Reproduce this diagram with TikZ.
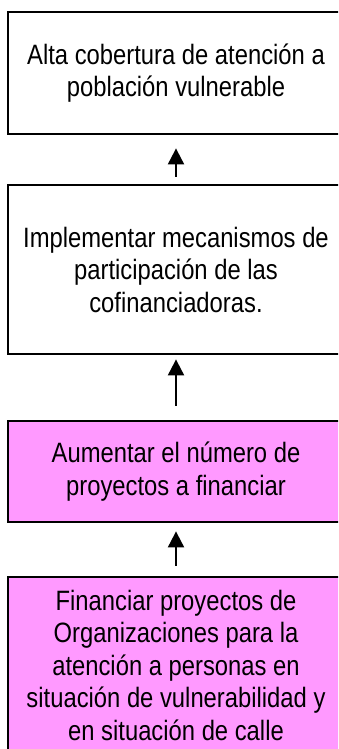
\documentclass[tikz,border=0pt]{standalone}
\usepackage{fontspec}
\setmainfont{Liberation Sans}
\newfontfamily\boxfont[FakeStretch=0.85]{Liberation Sans}
\usetikzlibrary{arrows.meta}
\definecolor{boxpink}{RGB}{255,153,255}
\tikzset{
  goalbox/.style={draw=black, line width=2.8pt, rectangle, minimum width=336pt,
    inner sep=0pt, align=center, text=black,
    font={\fontsize{28}{32.5}\selectfont\boxfont}},
  pinkbox/.style={goalbox, fill=boxpink},
  uparrow/.style={line width=2pt, -{Triangle[width=16pt,length=16pt]}}
}
\begin{document}
\begin{tikzpicture}[x=1pt,y=-1pt]
\useasboundingbox (0,0) rectangle (338,749);
\clip (0,0) rectangle (338,749);
\fill[white] (0,0) rectangle (338,749);
\node[goalbox, minimum height=122pt] (b1) at (176,73)
  {Alta cobertura de atención a\\población vulnerable};
\node[goalbox, minimum height=169pt] (b2) at (176,269.5)
  {Implementar mecanismos de\\participación de las\\cofinanciadoras.};
\node[pinkbox, minimum height=101pt] (b3) at (176,471.5)
  {Aumentar el número de\\proyectos a financiar};
\node[pinkbox, minimum height=176pt] (b4) at (176,665)
  {Financiar proyectos de\\Organizaciones para la\\atención a personas en\\situación de vulnerabilidad y\\en situación de calle};
\draw[uparrow, shorten <=7pt, shorten >=13pt] (b2.north) -- (b1.south);
\draw[uparrow, shorten <=14pt, shorten >=4pt] (b3.north) -- (b2.south);
\draw[uparrow, shorten <=10pt, shorten >=8pt] (b4.north) -- (b3.south);
\end{tikzpicture}
\end{document}
